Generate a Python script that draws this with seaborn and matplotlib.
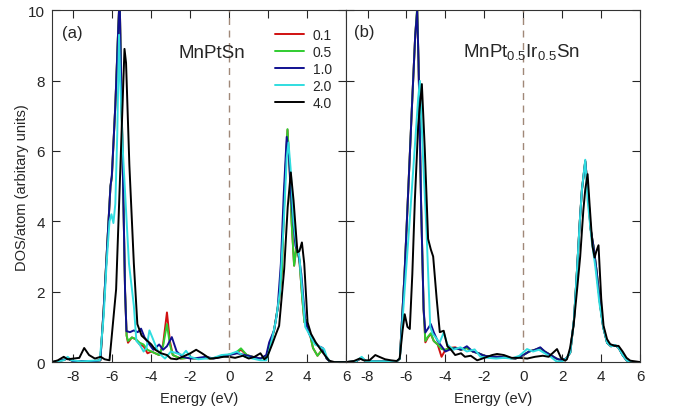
import numpy as np
import pandas as pd
import matplotlib
matplotlib.use("Agg")
import matplotlib.pyplot as plt
import seaborn as sns

sigmas = ["0.1", "0.5", "1.0", "2.0", "4.0"]
colors = ["#d01010", "#30cc30", "#101090", "#30dde0", "#000000"]

# ---- panel (a) MnPtSn ----
a_e_01 = [-9.1, -8.6, -8.3, -8.0, -7.5, -7.0, -6.62, -6.45, -6.3, -6.1, -6.03, -5.85, -5.7, -5.63, -5.55, -5.45,
          -5.35, -5.27, -5.2, -5.0, -4.8, -4.6, -4.4, -4.2, -4.0, -3.8, -3.6, -3.4, -3.2, -3.05, -2.9, -2.5, -2.1,
          -1.7, -1.3, -0.9, -0.5, -0.1, 0.3, 0.6, 0.9, 1.2, 1.6, 1.9, 2.1, 2.3, 2.56, 2.7, 2.85, 2.99, 3.1, 3.2,
          3.33, 3.45, 3.6, 3.75, 3.86, 3.95, 4.1, 4.3, 4.53, 4.7, 4.85, 5.0, 5.2, 6.0]
a_d_01 = [0.0, 0.05, 0.1, 0.02, 0.03, 0.02, 0.05, 1.5, 3.0, 5.0, 5.25, 7.3, 9.5, 10.4, 8.0, 5.0,
          2.0, 0.75, 0.55, 0.7, 0.65, 0.5, 0.45, 0.25, 0.3, 0.25, 0.2, 0.5, 1.41, 0.6, 0.2, 0.1, 0.12,
          0.1, 0.12, 0.1, 0.15, 0.2, 0.25, 0.35, 0.2, 0.15, 0.1, 0.15, 0.5, 0.9, 1.79, 2.6, 5.0, 6.6, 5.5, 4.0,
          2.74, 3.27, 2.9, 1.8, 1.13, 1.2, 0.9, 0.4, 0.18, 0.3, 0.35, 0.1, 0.0, 0.0]
a_e_05 = a_e_01
a_d_05 = [0.0, 0.05, 0.1, 0.02, 0.03, 0.02, 0.05, 1.5, 3.0, 5.0, 5.25, 7.3, 9.5, 10.4, 8.0, 5.0,
          2.0, 0.75, 0.6, 0.7, 0.65, 0.55, 0.5, 0.35, 0.3, 0.25, 0.2, 0.45, 1.08, 0.5, 0.2, 0.1, 0.12,
          0.1, 0.12, 0.1, 0.15, 0.2, 0.25, 0.39, 0.2, 0.15, 0.1, 0.15, 0.5, 0.9, 1.79, 2.6, 5.0, 6.62, 5.5, 4.0,
          2.74, 3.27, 2.9, 1.8, 1.13, 1.2, 0.9, 0.4, 0.18, 0.3, 0.35, 0.1, 0.0, 0.0]
a_e_10 = [-9.1, -8.6, -8.3, -8.0, -7.5, -7.0, -6.62, -6.45, -6.3, -6.1, -6.03, -5.85, -5.7, -5.63, -5.55, -5.45,
          -5.35, -5.28, -5.1, -4.9, -4.7, -4.53, -4.35, -4.1, -3.9, -3.6, -3.4, -3.2, -2.95, -2.7, -2.4, -2.0,
          -1.6, -1.2, -0.8, -0.4, 0.0, 0.4, 0.8, 1.2, 1.6, 1.9, 2.05, 2.3, 2.48, 2.65, 2.8, 2.95, 3.05, 3.2,
          3.4, 3.55, 3.7, 3.9, 4.1, 4.3, 4.6, 4.8, 5.0, 5.2, 6.0]
a_d_10 = [0.0, 0.05, 0.1, 0.02, 0.03, 0.02, 0.05, 1.5, 3.0, 5.0, 5.3, 7.3, 9.5, 10.4, 8.0, 5.0,
          2.0, 0.88, 0.85, 0.9, 0.85, 0.95, 0.7, 0.5, 0.35, 0.5, 0.35, 0.45, 0.71, 0.3, 0.15, 0.1,
          0.12, 0.15, 0.1, 0.15, 0.2, 0.25, 0.2, 0.15, 0.1, 0.2, 0.56, 0.9, 1.5, 2.8, 4.8, 6.4, 6.0, 4.5,
          3.3, 3.1, 2.5, 1.2, 0.8, 0.6, 0.45, 0.4, 0.1, 0.0, 0.0]
a_e_20 = [-9.1, -8.5, -8.3, -8.1, -7.6, -6.65, -6.45, -6.3, -6.15, -6.05, -5.95, -5.85, -5.75, -5.66, -5.6, -5.47,
          -5.3, -5.15, -5.04, -4.9, -4.77, -4.6, -4.4, -4.25, -4.1, -3.95, -3.7, -3.5, -3.3, -3.0, -2.7, -2.4,
          -2.22, -2.0, -1.6, -1.2, -0.8, -0.4, 0.0, 0.4, 0.8, 1.2, 1.6, 1.9, 2.1, 2.4, 2.6, 2.8, 2.95, 3.04,
          3.15, 3.3, 3.45, 3.6, 3.75, 3.9, 4.1, 4.4, 4.6, 4.87, 5.0, 5.2, 6.0]
a_d_20 = [0.0, 0.05, 0.15, 0.05, 0.02, 0.05, 1.3, 2.8, 4.0, 4.2, 3.95, 4.5, 6.5, 9.3, 8.0, 6.05,
          4.3, 2.8, 2.27, 1.6, 0.6, 0.5, 0.3, 0.4, 0.9, 0.7, 0.35, 0.2, 0.1, 0.3, 0.25, 0.2,
          0.32, 0.15, 0.08, 0.1, 0.12, 0.2, 0.22, 0.3, 0.15, 0.1, 0.05, 0.05, 0.4, 1.2, 2.0, 4.0, 5.8, 6.24,
          5.5, 4.0, 3.3, 3.0, 2.0, 1.0, 0.8, 0.5, 0.45, 0.37, 0.15, 0.0, 0.0]
a_e_40 = [-9.1, -8.8, -8.5, -8.3, -8.0, -7.7, -7.45, -7.2, -6.9, -6.6, -6.4, -6.15, -5.81, -5.6, -5.45, -5.38,
          -5.3, -5.13, -4.9, -4.72, -4.5, -4.2, -4.0, -3.8, -3.5, -3.2, -3.0, -2.7, -2.4, -2.0, -1.7, -1.4,
          -1.0, -0.6, -0.3, 0.0, 0.3, 0.7, 1.0, 1.3, 1.6, 1.8, 1.95, 2.2, 2.4, 2.56, 2.82, 3.0, 3.16, 3.3,
          3.5, 3.6, 3.73, 3.85, 4.02, 4.2, 4.44, 4.7, 4.9, 5.13, 5.4, 6.0]
a_d_40 = [0.0, 0.05, 0.15, 0.08, 0.1, 0.12, 0.4, 0.2, 0.1, 0.15, 0.08, 0.05, 2.07, 5.4, 7.8, 8.9,
          8.5, 5.6, 2.8, 1.08, 0.75, 0.6, 0.5, 0.35, 0.25, 0.2, 0.1, 0.08, 0.15, 0.25, 0.35, 0.25,
          0.1, 0.12, 0.15, 0.15, 0.12, 0.18, 0.1, 0.15, 0.25, 0.08, 0.15, 0.5, 0.8, 1.03, 2.64, 4.4, 5.39, 4.6,
          3.12, 3.15, 3.4, 2.8, 1.13, 0.8, 0.56, 0.35, 0.2, 0.04, 0.0, 0.0]

# ---- panel (b) MnPt0.5Ir0.5Sn ----
b_e_10 = [-9.1, -8.6, -8.3, -8.1, -7.6, -7.0, -6.5, -6.34, -6.1, -5.9, -5.7, -5.55, -5.45, -5.38, -5.25, -5.12,
          -5.03, -4.9, -4.75, -4.6, -4.4, -4.2, -4.0, -3.8, -3.5, -3.2, -2.9, -2.6, -2.3, -2.0, -1.6, -1.2,
          -0.8, -0.4, 0.0, 0.3, 0.6, 0.87, 1.1, 1.4, 1.7, 1.95, 2.2, 2.41, 2.6, 2.75, 2.9, 3.01, 3.18, 3.3,
          3.45, 3.6, 3.77, 3.95, 4.1, 4.3, 4.5, 4.72, 4.9, 5.1, 5.3, 5.5, 6.0]
b_d_10 = [0.0, 0.02, 0.12, 0.03, 0.02, 0.02, 0.02, 0.1, 2.5, 5.0, 7.5, 9.3, 10.0, 8.5, 4.5, 1.5,
          0.84, 0.95, 1.08, 0.85, 0.6, 0.45, 0.3, 0.35, 0.4, 0.35, 0.45, 0.3, 0.25, 0.18, 0.15, 0.15,
          0.12, 0.1, 0.2, 0.3, 0.35, 0.42, 0.3, 0.2, 0.1, 0.05, 0.1, 0.27, 1.2, 2.55, 4.0, 4.9, 5.72, 5.0,
          3.8, 3.3, 2.55, 1.6, 1.0, 0.55, 0.45, 0.48, 0.4, 0.2, 0.05, 0.0, 0.0]
b_e_01 = b_e_10
b_d_01 = [0.0, 0.02, 0.12, 0.03, 0.02, 0.02, 0.02, 0.1, 2.5, 5.0, 7.5, 9.3, 10.0, 8.5, 4.5, 1.5,
          0.56, 0.7, 0.8, 0.6, 0.5, 0.15, 0.35, 0.4, 0.42, 0.35, 0.4, 0.3, 0.25, 0.18, 0.15, 0.15,
          0.12, 0.1, 0.2, 0.3, 0.35, 0.4, 0.3, 0.2, 0.1, 0.05, 0.1, 0.27, 1.2, 2.55, 4.0, 4.9, 5.7, 5.0,
          3.8, 3.3, 2.55, 1.6, 1.0, 0.55, 0.45, 0.48, 0.4, 0.2, 0.05, 0.0, 0.0]
b_e_05 = b_e_10
b_d_05 = [0.0, 0.02, 0.12, 0.03, 0.02, 0.02, 0.02, 0.1, 2.5, 5.0, 7.5, 9.3, 10.1, 8.5, 4.5, 1.5,
          0.6, 0.72, 0.82, 0.6, 0.5, 0.37, 0.35, 0.4, 0.4, 0.35, 0.4, 0.3, 0.25, 0.18, 0.15, 0.15,
          0.12, 0.1, 0.2, 0.3, 0.35, 0.4, 0.3, 0.2, 0.1, 0.05, 0.1, 0.27, 1.2, 2.55, 4.0, 4.9, 5.7, 5.0,
          3.8, 3.3, 2.55, 1.6, 1.0, 0.55, 0.45, 0.48, 0.4, 0.2, 0.05, 0.0, 0.0]
b_e_20 = [-9.1, -8.6, -8.3, -8.1, -7.6, -7.0, -6.5, -6.34, -6.1, -5.8, -5.55, -5.4, -5.31, -5.15, -4.97, -4.85,
          -4.78, -4.65, -4.5, -4.3, -4.09, -3.9, -3.6, -3.23, -2.9, -2.5, -2.2, -1.8, -1.4, -1.0, -0.6, -0.2,
          0.19, 0.5, 0.8, 1.1, 1.4, 1.7, 2.0, 2.2, 2.41, 2.6, 2.75, 2.9, 3.01, 3.18, 3.3, 3.5, 3.7, 3.9,
          4.1, 4.3, 4.5, 4.72, 4.9, 5.1, 5.3, 5.5, 6.0]
b_d_20 = [0.0, 0.02, 0.15, 0.03, 0.02, 0.02, 0.02, 0.1, 2.0, 4.3, 6.3, 7.5, 7.99, 5.8, 3.7, 2.0,
          1.0, 0.8, 0.7, 0.55, 0.84, 0.5, 0.35, 0.42, 0.3, 0.36, 0.15, 0.12, 0.1, 0.12, 0.1, 0.18,
          0.37, 0.3, 0.35, 0.25, 0.15, 0.02, 0.02, 0.1, 0.27, 1.2, 2.55, 4.0, 4.9, 5.75, 4.6, 3.5, 2.7, 1.7,
          1.0, 0.55, 0.45, 0.48, 0.4, 0.2, 0.05, 0.0, 0.0]
b_e_40 = [-9.1, -8.7, -8.4, -8.2, -7.9, -7.6, -7.4, -7.1, -6.8, -6.5, -6.35, -6.2, -6.09, -5.95, -5.83, -5.7,
          -5.57, -5.4, -5.21, -5.06, -4.89, -4.75, -4.63, -4.45, -4.29, -4.09, -3.9, -3.74, -3.5, -3.2, -3.0, -2.7,
          -2.37, -2.0, -1.6, -1.35, -1.0, -0.6, -0.2, 0.2, 0.6, 1.0, 1.3, 1.73, 1.95, 2.15, 2.24, 2.4, 2.58, 2.75,
          2.92, 3.08, 3.18, 3.3, 3.4, 3.55, 3.66, 3.75, 3.86, 4.0, 4.12, 4.3, 4.46, 4.7, 4.89, 5.1, 5.3, 5.49, 6.0]
b_d_40 = [0.0, 0.03, 0.1, 0.05, 0.05, 0.2, 0.15, 0.08, 0.05, 0.03, 0.1, 0.9, 1.36, 1.0, 0.94, 2.5,
          4.6, 6.7, 7.9, 6.05, 3.5, 3.2, 3.0, 1.8, 0.85, 0.89, 0.45, 0.37, 0.2, 0.25, 0.15, 0.18,
          0.05, 0.12, 0.2, 0.23, 0.2, 0.12, 0.12, 0.1, 0.15, 0.18, 0.15, 0.37, 0.1, 0.04, 0.08, 0.4, 1.03, 2.0,
          3.0, 4.3, 4.9, 5.34, 4.5, 3.3, 2.97, 3.15, 3.32, 1.8, 1.03, 0.65, 0.51, 0.46, 0.46, 0.3, 0.12, 0.04, 0.0]


def long_table(pairs):
    frames = []
    for lab, (e, d) in zip(sigmas, pairs):
        frames.append(pd.DataFrame({"energy": e, "dos": d, "sigma": lab}))
    return pd.concat(frames, ignore_index=True)


df_a = long_table([(a_e_01, a_d_01), (a_e_05, a_d_05), (a_e_10, a_d_10), (a_e_20, a_d_20), (a_e_40, a_d_40)])
df_b = long_table([(b_e_01, b_d_01), (b_e_05, b_d_05), (b_e_10, b_d_10), (b_e_20, b_d_20), (b_e_40, b_d_40)])

sns.set_style("ticks")
plt.rcParams["font.family"] = ["Liberation Sans", "DejaVu Sans"]
plt.rcParams["mathtext.default"] = "regular"
plt.rcParams["axes.unicode_minus"] = False

fig, axes = plt.subplots(1, 2, figsize=(6.76, 4.14), dpi=100, sharey=True)
fig.subplots_adjust(left=0.077, right=0.947, bottom=0.123, top=0.973, wspace=0)

pal = dict(zip(sigmas, colors))
for ax, df in zip(axes, [df_a, df_b]):
    sns.lineplot(data=df, x="energy", y="dos", hue="sigma", palette=pal, estimator=None,
                 sort=False, lw=1.4, ax=ax, legend=False)
    ax.axvline(0, color="#a08878", lw=1.0, ls=(0, (5, 4)))
    ax.set_xlim(-9.1, 6)
    ax.set_ylim(0, 10)
    ax.set_xticks([-8, -6, -4, -2, 0, 2, 4, 6])
    ax.set_yticks([0, 2, 4, 6, 8, 10])
    ax.tick_params(direction="in", length=6, width=0.8, top=True, right=True, labelsize=11, pad=5)
    ax.set_xlabel("Energy (eV)", fontsize=10.5, labelpad=6)
    for s in ax.spines.values():
        s.set_linewidth(0.8)
        s.set_color("#333333")

axes[0].set_ylabel("DOS/atom (arbitary units)", fontsize=10.5, labelpad=-1)
axes[1].set_ylabel("")
axes[1].tick_params(labelleft=False)

axes[0].text(-8.6, 9.37, "(a)", fontsize=12, va="center", ha="left")
axes[0].text(-0.87, 8.8, "MnPtSn", fontsize=13.5, va="center", ha="center")
axes[1].text(-8.72, 9.4, "(b)", fontsize=12, va="center", ha="left")
axes[1].text(-3.08, 8.83, r"MnPt$_{0.5}$Ir$_{0.5}$Sn", fontsize=13.5, va="center", ha="left")

handles = [plt.Line2D([], [], color=c, lw=1.4) for c in colors]
axes[0].legend(handles, sigmas, loc="upper left", bbox_to_anchor=(0.74, 0.965), frameon=False,
               fontsize=10, handlelength=2.1, handletextpad=0.6, labelspacing=0.22, borderaxespad=0)

fig.savefig("out.png", dpi=100)
